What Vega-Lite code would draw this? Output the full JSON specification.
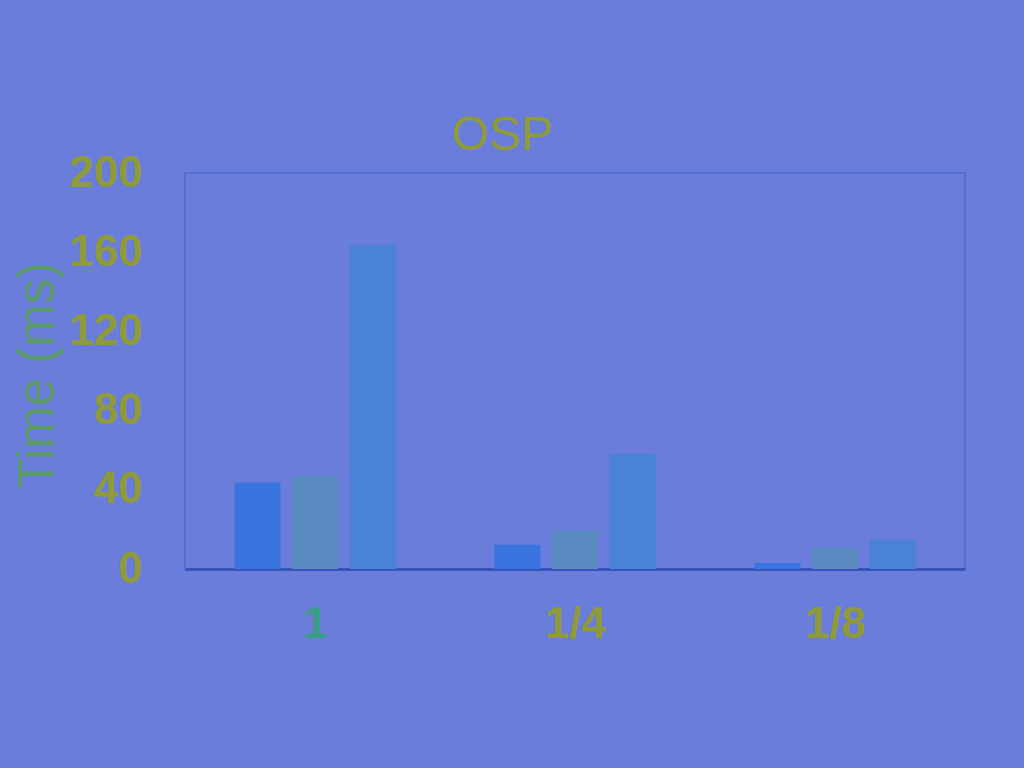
{
  "$schema": "https://vega.github.io/schema/vega-lite/v6.json",
  "autosize": "none",
  "width": 780,
  "height": 396,
  "padding": {"left": 185, "top": 173, "right": 59, "bottom": 199},
  "background": "#6a7ddb",
  "title": {
    "text": "OSP",
    "font": "Liberation Sans",
    "fontSize": 48,
    "fontWeight": "normal",
    "color": "#8f9a3a",
    "anchor": "middle",
    "dx": -73,
    "offset": -9
  },
  "data": {
    "values": [
      {"ratio": "1", "series": "A", "time": 43.7},
      {"ratio": "1", "series": "B", "time": 46.8},
      {"ratio": "1", "series": "C", "time": 163.8},
      {"ratio": "1/4", "series": "A", "time": 12.3},
      {"ratio": "1/4", "series": "B", "time": 19.5},
      {"ratio": "1/4", "series": "C", "time": 58.2},
      {"ratio": "1/8", "series": "A", "time": 3.0},
      {"ratio": "1/8", "series": "B", "time": 10.9},
      {"ratio": "1/8", "series": "C", "time": 14.8}
    ]
  },
  "mark": {"type": "bar"},
  "encoding": {
    "x": {
      "field": "ratio",
      "type": "nominal",
      "sort": ["1", "1/4", "1/8"],
      "scale": {"paddingInner": 0.38, "paddingOuter": 0.19},
      "axis": {
        "title": null,
        "labelAngle": 0,
        "labelFont": "Liberation Sans",
        "labelFontSize": 44,
        "labelFontWeight": "bold",
        "labelColor": {"condition": {"test": "datum.value == '1'", "value": "#3a9e84"}, "value": "#8f9a3a"},
        "labelPadding": 33,
        "ticks": false,
        "domain": true,
        "domainColor": "#3654bc",
        "domainWidth": 3
      }
    },
    "xOffset": {
      "field": "series",
      "type": "nominal",
      "scale": {"paddingInner": 0.2, "paddingOuter": 0}
    },
    "y": {
      "field": "time",
      "type": "quantitative",
      "scale": {"domain": [0, 200], "nice": false},
      "axis": {
        "title": "Time (ms)",
        "values": [0, 40, 80, 120, 160, 200],
        "grid": false,
        "ticks": false,
        "domain": false,
        "labelFont": "Liberation Sans",
        "labelFontSize": 44,
        "labelFontWeight": "bold",
        "labelColor": "#8f9a3a",
        "labelPadding": 43,
        "titleFont": "Liberation Sans",
        "titleFontSize": 51,
        "titleFontWeight": "normal",
        "titleColor": "#5a9a6a",
        "titleAngle": -90,
        "titleAlign": "center",
        "titleBaseline": "middle",
        "titleX": -148,
        "titleY": 202
      }
    },
    "color": {
      "field": "series",
      "type": "nominal",
      "legend": null,
      "scale": {"domain": ["A", "B", "C"], "range": ["#3a74de", "#5a8cc2", "#4a82d8"]}
    }
  },
  "config": {
    "view": {"stroke": "#5570d2", "strokeWidth": 2}
  }
}
